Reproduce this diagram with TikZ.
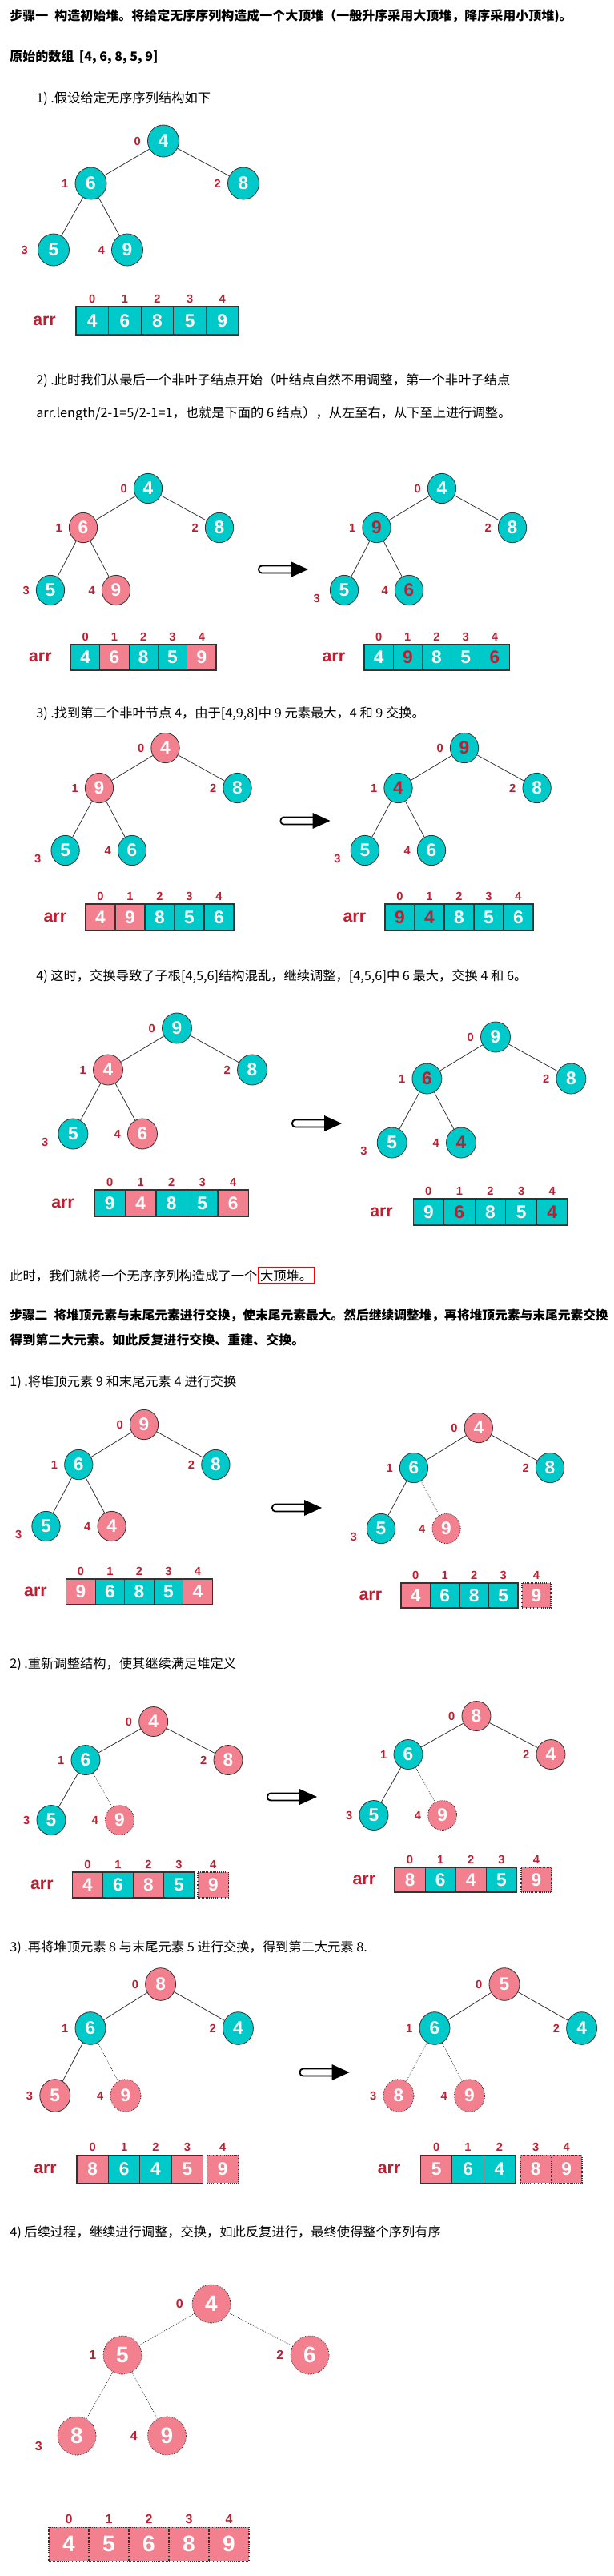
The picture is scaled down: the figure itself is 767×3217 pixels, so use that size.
\documentclass[tikz,border=0pt]{standalone}
\usepackage{fontspec}
\setmainfont{Noto Sans CJK SC}
\newfontfamily\digitfont{Liberation Sans}
\usetikzlibrary{shapes.geometric,positioning}
\definecolor{heapteal}{RGB}{0,201,201}
\definecolor{heappink}{RGB}{243,128,142}
\definecolor{idxred}{RGB}{192,30,48}
\tikzset{
    heapnode/.style={ellipse, draw=black!80, line width=0.6pt, inner sep=0pt, minimum width=26.5pt, minimum height=28pt, text=white, font=\digitfont\bfseries\fontsize{17pt}{17pt}\selectfont},
    tnode/.style={heapnode, fill=heapteal},
    pnode/.style={heapnode, fill=heappink},
    dnode/.style={heapnode, fill=heappink, densely dotted},
    idx/.style={text=idxred, inner sep=1pt, font=\digitfont\bfseries\fontsize{11pt}{11pt}\selectfont},
    low/.style={idx, xshift=-3pt, yshift=-8pt},
    link/.style={draw=black!80, line width=0.6pt},
    dlink/.style={link, densely dotted},
    cell/.style={draw=black!80, line width=0.8pt, inner sep=0pt, text=white, font=\digitfont\bfseries\fontsize{17pt}{17pt}\selectfont},
    dcell/.style={cell, fill=heappink, densely dotted},
    arrtxt/.style={text=idxred, font=\digitfont\bfseries\fontsize{16pt}{16pt}\selectfont},
    txt/.style={anchor=west, inner sep=0pt, font=\fontsize{12.2pt}{15pt}\selectfont},
    btxt/.style={txt, font=\bfseries\fontsize{12pt}{15pt}\selectfont},
    shaft/.style={draw=black, line width=1.4pt, fill=white, rounded corners=3pt}
}
\begin{document}
\begin{tikzpicture}[x=0.75pt, y=-0.75pt, label distance=5pt]
    \fill[white] (0,0) rectangle (767,3217);
    \useasboundingbox (0,0) rectangle (767,3217);

    \node[btxt] (t1) at (12,20) {步骤一\hspace{6pt}构造初始堆。将给定无序序列构造成一个大顶堆（一般升序采用大顶堆，降序采用小顶堆)。};
    \node[btxt] (t2) at (12,71) {原始的数组\hspace{5pt}[4, 6, 8, 5, 9]};
    \node[txt] (t3) at (45,123) {1) .假设给定无序序列结构如下};

    \begin{scope}[heapnode/.append style={minimum width=29.25pt, minimum height=30pt}]
    \node[tnode, label={[idx]left:0}] (p1n0) at (204,176) {4};
    \node[tnode, label={[idx]left:1}] (p1n1) at (113.5,229) {6};
    \node[tnode, label={[idx]left:2}] (p1n2) at (304,229) {8};
    \node[tnode, label={[idx,xshift=-3pt]left:3}] (p1n3) at (67,312) {5};
    \node[tnode, label={[idx]left:4}] (p1n4) at (159,312) {9};
    \end{scope}
    \draw[link] (p1n0) -- (p1n1);
    \draw[link] (p1n0) -- (p1n2);
    \draw[link] (p1n1) -- (p1n3);
    \draw[link] (p1n1) -- (p1n4);
    \foreach \val/\fc/\tc [count=\i from 0] in {4/heapteal/white,6/heapteal/white,8/heapteal/white,5/heapteal/white,9/heapteal/white}
        \node[cell, fill=\fc, text=\tc, minimum width=30.45pt, minimum height=26.25pt, label={[idx,yshift=-3pt]above:\i}] (p1c\i) at ({95+40.6*(\i+0.5)},400.5) {\val};
    \node[arrtxt, left=15pt of p1c0] (p1arr) {arr};

    \node[txt] (t4) at (45,475) {2) .此时我们从最后一个非叶子结点开始（叶结点自然不用调整，第一个非叶子结点};
    \node[txt] (t5) at (45,517) {arr.length/2-1=5/2-1=1，也就是下面的 6 结点），从左至右，从下至上进行调整。};

    \node[tnode, label={[idx]left:0}] (p2ln0) at (185,610) {4};
    \node[pnode, label={[idx]left:1}] (p2ln1) at (104,659) {6};
    \node[tnode, label={[idx]left:2}] (p2ln2) at (274,659) {8};
    \node[tnode, label={[idx]left:3}] (p2ln3) at (63,737) {5};
    \node[pnode, label={[idx]left:4}] (p2ln4) at (145,737) {9};
    \draw[link] (p2ln0) -- (p2ln1);
    \draw[link] (p2ln0) -- (p2ln2);
    \draw[link] (p2ln1) -- (p2ln3);
    \draw[link] (p2ln1) -- (p2ln4);
    \foreach \val/\fc/\tc [count=\i from 0] in {4/heapteal/white,6/heappink/white,8/heapteal/white,5/heapteal/white,9/heappink/white}
        \node[cell, fill=\fc, text=\tc, minimum width=27.2pt, minimum height=24pt, label={[idx,yshift=-3pt]above:\i}] (p2lc\i) at ({88.5+36.3*(\i+0.5)},821) {\val};
    \node[arrtxt, left=14pt of p2lc0] (p2larr) {arr};

    \node[tnode, label={[idx]left:0}] (p2rn0) at (552,610) {4};
    \node[tnode, text=idxred, label={[idx]left:1}] (p2rn1) at (470.5,659) {9};
    \node[tnode, label={[idx]left:2}] (p2rn2) at (640,659) {8};
    \node[tnode, label={[low]left:3}] (p2rn3) at (430,737) {5};
    \node[tnode, text=idxred, label={[idx]left:4}] (p2rn4) at (511,737) {6};
    \draw[link] (p2rn0) -- (p2rn1);
    \draw[link] (p2rn0) -- (p2rn2);
    \draw[link] (p2rn1) -- (p2rn3);
    \draw[link] (p2rn1) -- (p2rn4);
    \foreach \val/\fc/\tc [count=\i from 0] in {4/heapteal/white,9/heapteal/idxred,8/heapteal/white,5/heapteal/white,6/heapteal/idxred}
        \node[cell, fill=\fc, text=\tc, minimum width=27.2pt, minimum height=24pt, label={[idx,yshift=-3pt]above:\i}] (p2rc\i) at ({455+36.2*(\i+0.5)},821) {\val};
    \node[arrtxt, left=14pt of p2rc0] (p2rarr) {arr};

    \node[txt] (t6) at (45,891) {3) .找到第二个非叶节点 4，由于[4,9,8]中 9 元素最大，4 和 9 交换。};

    \node[pnode, label={[idx]left:0}] (p3ln0) at (206.5,934) {4};
    \node[pnode, label={[idx]left:1}] (p3ln1) at (124,984) {9};
    \node[tnode, label={[idx]left:2}] (p3ln2) at (296.5,984) {8};
    \node[tnode, label={[low]left:3}] (p3ln3) at (81.6,1062) {5};
    \node[tnode, label={[idx]left:4}] (p3ln4) at (165,1062) {6};
    \draw[link] (p3ln0) -- (p3ln1);
    \draw[link] (p3ln0) -- (p3ln2);
    \draw[link] (p3ln1) -- (p3ln3);
    \draw[link] (p3ln1) -- (p3ln4);
    \foreach \val/\fc/\tc [count=\i from 0] in {4/heappink/white,9/heappink/white,8/heapteal/white,5/heapteal/white,6/heapteal/white}
        \node[cell, fill=\fc, text=\tc, minimum width=27.75pt, minimum height=24.75pt, label={[idx,yshift=-3pt]above:\i}] (p3lc\i) at ({107+37*(\i+0.5)},1145.5) {\val};
    \node[arrtxt, left=14pt of p3lc0] (p3larr) {arr};

    \node[tnode, text=idxred, label={[idx]left:0}] (p3rn0) at (580,934) {9};
    \node[tnode, text=idxred, label={[idx]left:1}] (p3rn1) at (497.5,984) {4};
    \node[tnode, label={[idx]left:2}] (p3rn2) at (670.6,984) {8};
    \node[tnode, label={[low]left:3}] (p3rn3) at (455.8,1062) {5};
    \node[tnode, label={[idx]left:4}] (p3rn4) at (539,1062) {6};
    \draw[link] (p3rn0) -- (p3rn1);
    \draw[link] (p3rn0) -- (p3rn2);
    \draw[link] (p3rn1) -- (p3rn3);
    \draw[link] (p3rn1) -- (p3rn4);
    \foreach \val/\fc/\tc [count=\i from 0] in {9/heapteal/idxred,4/heapteal/idxred,8/heapteal/white,5/heapteal/white,6/heapteal/white}
        \node[cell, fill=\fc, text=\tc, minimum width=27.75pt, minimum height=24.75pt, label={[idx,yshift=-3pt]above:\i}] (p3rc\i) at ({481+37*(\i+0.5)},1145.5) {\val};
    \node[arrtxt, left=14pt of p3rc0] (p3rarr) {arr};

    \node[txt] (t7) at (45,1219) {4) 这时，交换导致了子根[4,5,6]结构混乱，继续调整，[4,5,6]中 6 最大，交换 4 和 6。};

    \begin{scope}[heapnode/.append style={minimum width=27.75pt, minimum height=28.5pt}]
    \node[tnode, label={[idx]left:0}] (p4ln0) at (221,1284) {9};
    \node[pnode, label={[idx]left:1}] (p4ln1) at (135,1336) {4};
    \node[tnode, label={[idx]left:2}] (p4ln2) at (315,1336) {8};
    \node[tnode, label={[low]left:3}] (p4ln3) at (91.4,1416) {5};
    \node[pnode, label={[idx]left:4}] (p4ln4) at (178,1416) {6};
    \node[tnode, label={[idx]left:0}] (p4rn0) at (619,1295) {9};
    \node[tnode, text=idxred, label={[idx]left:1}] (p4rn1) at (533.4,1347) {6};
    \node[tnode, label={[idx]left:2}] (p4rn2) at (713.4,1347) {8};
    \node[tnode, label={[low]left:3}] (p4rn3) at (489.7,1427) {5};
    \node[tnode, text=idxred, label={[idx]left:4}] (p4rn4) at (576,1427) {4};
    \end{scope}
    \draw[link] (p4ln0) -- (p4ln1);
    \draw[link] (p4ln0) -- (p4ln2);
    \draw[link] (p4ln1) -- (p4ln3);
    \draw[link] (p4ln1) -- (p4ln4);
    \draw[link] (p4rn0) -- (p4rn1);
    \draw[link] (p4rn0) -- (p4rn2);
    \draw[link] (p4rn1) -- (p4rn3);
    \draw[link] (p4rn1) -- (p4rn4);
    \foreach \val/\fc/\tc [count=\i from 0] in {9/heapteal/white,4/heappink/white,8/heapteal/white,5/heapteal/white,6/heappink/white}
        \node[cell, fill=\fc, text=\tc, minimum width=28.9pt, minimum height=24.75pt, label={[idx,yshift=-3pt]above:\i}] (p4lc\i) at ({118+38.5*(\i+0.5)},1502.5) {\val};
    \node[arrtxt, left=15pt of p4lc0] (p4larr) {arr};
    \foreach \val/\fc/\tc [count=\i from 0] in {9/heapteal/white,6/heapteal/idxred,8/heapteal/white,5/heapteal/white,4/heapteal/idxred}
        \node[cell, fill=\fc, text=\tc, minimum width=28.9pt, minimum height=24.75pt, label={[idx,yshift=-3pt]above:\i}] (p4rc\i) at ({516+38.6*(\i+0.5)},1513.5) {\val};
    \node[arrtxt, left=15pt of p4rc0] (p4rarr) {arr};

    \node[txt] (t8) at (12,1593) {此时，我们就将一个无序序列构造成了一个};
    \node[txt, draw=red, line width=1.3pt, inner sep=2pt, right=0pt of t8] (t8box) {大顶堆。};

    \node[btxt, font=\bfseries\fontsize{11.8pt}{15pt}\selectfont] (t9) at (12,1643) {步骤二\hspace{6pt}将堆顶元素与末尾元素进行交换，使末尾元素最大。然后继续调整堆，再将堆顶元素与末尾元素交换};
    \node[btxt] (t10) at (12,1673) {得到第二大元素。如此反复进行交换、重建、交换。};
    \node[txt] (t11) at (12,1726) {1) .将堆顶元素 9 和末尾元素 4 进行交换};

    \node[pnode, label={[idx]left:0}] (q1ln0) at (180,1779) {9};
    \node[tnode, label={[idx]left:1}] (q1ln1) at (98.3,1829) {6};
    \node[tnode, label={[idx]left:2}] (q1ln2) at (269.4,1829) {8};
    \node[tnode, label={[low]left:3}] (q1ln3) at (57.5,1906) {5};
    \node[pnode, label={[idx]left:4}] (q1ln4) at (139.6,1906) {4};
    \draw[link] (q1ln0) -- (q1ln1);
    \draw[link] (q1ln0) -- (q1ln2);
    \draw[link] (q1ln1) -- (q1ln3);
    \draw[link] (q1ln1) -- (q1ln4);
    \foreach \val/\fc/\tc [count=\i from 0] in {9/heappink/white,6/heapteal/white,8/heapteal/white,5/heapteal/white,4/heappink/white}
        \node[cell, fill=\fc, text=\tc, minimum width=27.4pt, minimum height=24pt, label={[idx,yshift=-3pt]above:\i}] (q1lc\i) at ({82.6+36.5*(\i+0.5)},1988) {\val};
    \node[arrtxt, left=14pt of q1lc0] (q1larr) {arr};

    \node[pnode, label={[idx]left:0}] (q1rn0) at (597.8,1783) {4};
    \node[tnode, label={[idx]left:1}] (q1rn1) at (517,1833) {6};
    \node[tnode, label={[idx]left:2}] (q1rn2) at (687,1833) {8};
    \node[tnode, label={[low]left:3}] (q1rn3) at (476,1909) {5};
    \node[dnode, label={[idx]left:4}] (q1rn4) at (557.5,1909) {9};
    \draw[link] (q1rn0) -- (q1rn1);
    \draw[link] (q1rn0) -- (q1rn2);
    \draw[link] (q1rn1) -- (q1rn3);
    \draw[dlink] (q1rn1) -- (q1rn4);
    \foreach \val/\fc/\tc [count=\i from 0] in {4/heappink/white,6/heapteal/white,8/heapteal/white,5/heapteal/white}
        \node[cell, fill=\fc, text=\tc, minimum width=27.4pt, minimum height=23.25pt, label={[idx,yshift=-3pt]above:\i}] (q1rc\i) at ({501+36.5*(\i+0.5)},1992.5) {\val};
    \node[dcell, minimum width=27pt, minimum height=23.25pt, label={[idx,yshift=-3pt]above:4}] (q1rc4) at (670,1992.5) {9};
    \node[arrtxt, left=14pt of q1rc0] (q1rarr) {arr};

    \node[txt] (t12) at (12,2078) {2) .重新调整结构，使其继续满足堆定义};

    \begin{scope}[heapnode/.append style={minimum width=27pt, minimum height=27.75pt}]
    \node[pnode, label={[idx]left:0}] (q2ln0) at (191.7,2150) {4};
    \node[tnode, label={[idx]left:1}] (q2ln1) at (107,2198) {6};
    \node[pnode, label={[idx]left:2}] (q2ln2) at (285,2198) {8};
    \node[tnode, label={[idx]left:3}] (q2ln3) at (64,2273) {5};
    \node[dnode, label={[idx]left:4}] (q2ln4) at (149.5,2273) {9};
    \node[pnode, label={[idx]left:0}] (q2rn0) at (595,2143) {8};
    \node[tnode, label={[idx]left:1}] (q2rn1) at (510,2191) {6};
    \node[pnode, label={[idx]left:2}] (q2rn2) at (688,2191) {4};
    \node[tnode, label={[idx]left:3}] (q2rn3) at (467,2267) {5};
    \node[dnode, label={[idx]left:4}] (q2rn4) at (552.6,2267) {9};
    \end{scope}
    \draw[link] (q2ln0) -- (q2ln1);
    \draw[link] (q2ln0) -- (q2ln2);
    \draw[link] (q2ln1) -- (q2ln3);
    \draw[dlink] (q2ln1) -- (q2ln4);
    \draw[link] (q2rn0) -- (q2rn1);
    \draw[link] (q2rn0) -- (q2rn2);
    \draw[link] (q2rn1) -- (q2rn3);
    \draw[dlink] (q2rn1) -- (q2rn4);
    \foreach \val/\fc/\tc [count=\i from 0] in {4/heappink/white,6/heapteal/white,8/heappink/white,5/heapteal/white}
        \node[cell, fill=\fc, text=\tc, minimum width=28.5pt, minimum height=24pt, label={[idx,yshift=-3pt]above:\i}] (q2lc\i) at ({90.5+38*(\i+0.5)},2354) {\val};
    \node[dcell, minimum width=29pt, minimum height=24pt, label={[idx,yshift=-3pt]above:4}] (q2lc4) at (266.3,2354) {9};
    \node[arrtxt, left=14pt of q2lc0] (q2larr) {arr};
    \foreach \val/\fc/\tc [count=\i from 0] in {8/heappink/white,6/heapteal/white,4/heappink/white,5/heapteal/white}
        \node[cell, fill=\fc, text=\tc, minimum width=28.6pt, minimum height=23.25pt, label={[idx,yshift=-3pt]above:\i}] (q2rc\i) at ({493+38.1*(\i+0.5)},2347.5) {\val};
    \node[dcell, minimum width=28.5pt, minimum height=23.25pt, label={[idx,yshift=-3pt]above:4}] (q2rc4) at (670,2347.5) {9};
    \node[arrtxt, left=14pt of q2rc0] (q2rarr) {arr};

    \node[txt] (t13) at (12,2432) {3) .再将堆顶元素 8 与末尾元素 5 进行交换，得到第二大元素 8.};

    \begin{scope}[heapnode/.append style={minimum width=28.5pt, minimum height=30.5pt}]
    \node[pnode, label={[idx]left:0}] (q3ln0) at (200.6,2478) {8};
    \node[tnode, label={[idx]left:1}] (q3ln1) at (113,2533) {6};
    \node[tnode, label={[idx]left:2}] (q3ln2) at (297.4,2533) {4};
    \node[pnode, label={[idx]left:3}] (q3ln3) at (68.8,2617) {5};
    \node[dnode, label={[idx]left:4}] (q3ln4) at (157,2617) {9};
    \node[pnode, label={[idx]left:0}] (q3rn0) at (630,2478) {5};
    \node[tnode, label={[idx]left:1}] (q3rn1) at (543,2533) {6};
    \node[tnode, label={[idx]left:2}] (q3rn2) at (726.6,2533) {4};
    \node[dnode, label={[idx]left:3}] (q3rn3) at (498,2617) {8};
    \node[dnode, label={[idx]left:4}] (q3rn4) at (586.5,2617) {9};
    \end{scope}
    \draw[link] (q3ln0) -- (q3ln1);
    \draw[link] (q3ln0) -- (q3ln2);
    \draw[link] (q3ln1) -- (q3ln3);
    \draw[dlink] (q3ln1) -- (q3ln4);
    \draw[link] (q3rn0) -- (q3rn1);
    \draw[link] (q3rn0) -- (q3rn2);
    \draw[dlink] (q3rn1) -- (q3rn3);
    \draw[dlink] (q3rn1) -- (q3rn4);
    \foreach \val/\fc/\tc [count=\i from 0] in {8/heappink/white,6/heapteal/white,4/heapteal/white,5/heappink/white}
        \node[cell, fill=\fc, text=\tc, minimum width=29.55pt, minimum height=26.25pt, label={[idx,yshift=-3pt]above:\i}] (q3lc\i) at ({96+39.4*(\i+0.5)},2708.5) {\val};
    \node[dcell, minimum width=29.5pt, minimum height=26.25pt, label={[idx,yshift=-3pt]above:4}] (q3lc4) at (278.3,2708.5) {9};
    \node[arrtxt, left=15pt of q3lc0] (q3larr) {arr};
    \foreach \val/\fc/\tc [count=\i from 0] in {5/heappink/white,6/heapteal/white,4/heapteal/white}
        \node[cell, fill=\fc, text=\tc, minimum width=29.5pt, minimum height=26.25pt, label={[idx,yshift=-3pt]above:\i}] (q3rc\i) at ({525.6+39.3*(\i+0.5)},2708.5) {\val};
    \node[dcell, minimum width=28.9pt, minimum height=26.25pt, label={[idx,yshift=-3pt]above:3}] (q3rc3) at (669.25,2708.5) {8};
    \node[dcell, minimum width=28.9pt, minimum height=26.25pt, label={[idx,yshift=-3pt]above:4}] (q3rc4) at (707.75,2708.5) {9};
    \node[arrtxt, left=15pt of q3rc0] (q3rarr) {arr};

    \node[txt] (t14) at (12,2788) {4) 后续过程，继续进行调整，交换，如此反复进行，最终使得整个序列有序};

    \begin{scope}[heapnode/.append style={minimum width=36pt, minimum height=36pt, font=\digitfont\bfseries\fontsize{21pt}{21pt}\selectfont}, idx/.append style={font=\digitfont\bfseries\fontsize{12pt}{12pt}\selectfont}]
    \node[dnode, label={[idx,xshift=-2pt]left:0}] (q4n0) at (264,2877) {4};
    \node[dnode, label={[idx]left:1}] (q4n1) at (153,2941) {5};
    \node[dnode, label={[idx]left:2}] (q4n2) at (387,2941) {6};
    \node[dnode, label={[idx,xshift=-8pt,yshift=-10pt]left:3}] (q4n3) at (96,3042) {8};
    \node[dnode, label={[idx,xshift=-3pt]left:4}] (q4n4) at (208.5,3042) {9};
    \draw[dlink] (q4n0) -- (q4n1);
    \draw[dlink] (q4n0) -- (q4n2);
    \draw[dlink] (q4n1) -- (q4n3);
    \draw[dlink] (q4n1) -- (q4n4);
    \foreach \val [count=\i from 0] in {4,5,6,8,9}
        \node[dcell, minimum width=37.5pt, minimum height=31.5pt, font=\digitfont\bfseries\fontsize{21pt}{21pt}\selectfont, label={[idx,yshift=-3pt]above:\i}] (q4c\i) at ({61+50*(\i+0.5)},3177) {\val};
    \end{scope}

    \coordinate (p2arrow) at (323,711);
    \coordinate (p3arrow) at (350.5,1025);
    \coordinate (p4arrow) at (365,1403);
    \coordinate (q1arrow) at (340,1883);
    \coordinate (q2arrow) at (334,2244);
    \coordinate (q3arrow) at (374.6,2588);
    \foreach \ar in {p2arrow,p3arrow,p4arrow,q1arrow,q2arrow,q3arrow} {
        \draw[shaft] (\ar) ++(0,-4.5) rectangle ++(46,9);
        \fill (\ar) ++(40,-10) -- ++(22,10) -- ++(-22,10) -- cycle;
    }
\end{tikzpicture}
\end{document}
